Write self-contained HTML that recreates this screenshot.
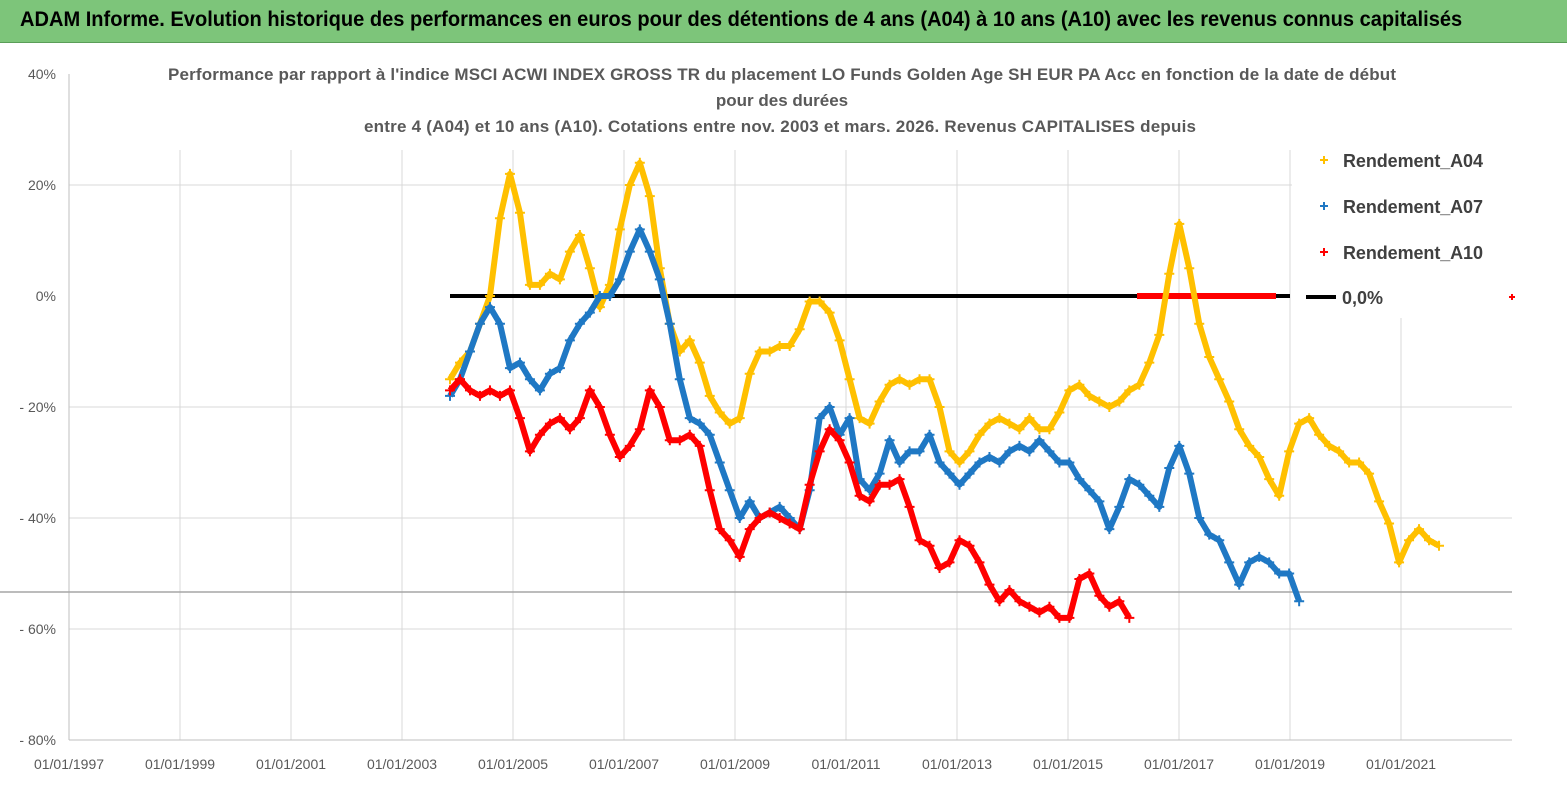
<!DOCTYPE html>
<html><head><meta charset="utf-8">
<style>
body{margin:0;background:#fff;font-family:"Liberation Sans",sans-serif;}
#wrap{position:relative;width:1567px;height:790px;overflow:hidden;background:#fff;}
#topbar{position:absolute;left:0;top:0;width:1567px;height:42px;background:#7dc57a;border-bottom:1px solid #5a9e58;}
#topbar span{position:absolute;left:20px;top:8px;font-size:21px;font-weight:bold;color:#000;white-space:nowrap;transform:scaleX(0.955);transform-origin:left;}
svg{position:absolute;left:0;top:0;}
</style></head><body>
<div id="wrap">
<div id="topbar"><span>ADAM Informe. Evolution historique des performances en euros pour des détentions de 4 ans (A04) à 10 ans (A10) avec les revenus connus capitalisés</span></div>
<svg id="chart" width="1567" height="790"></svg>
</div>
<script>
const yTicks=[40,20,0,-20,-40,-60,-80];
const yTickLabels=["40%","20%","0%","- 20%","- 40%","- 60%","- 80%"];
const xTickYears=[1997,1999,2001,2003,2005,2007,2009,2011,2013,2015,2017,2019,2021];
const xTickLabels=["01/01/1997","01/01/1999","01/01/2001","01/01/2003","01/01/2005","01/01/2007","01/01/2009","01/01/2011","01/01/2013","01/01/2015","01/01/2017","01/01/2019","01/01/2021"];
const startYear=2003.865, stepYears=0.18;
const a04=[-15,-12,-10,-5,0,14,22,15,2,2,4,3,8,11,5,-2,2,12,20,24,18,5,-5,-10,-8,-12,-18,-21,-23,-22,-14,-10,-10,-9,-9,-6,-1,-1,-3,-8,-15,-22,-23,-19,-16,-15,-16,-15,-15,-20,-28,-30,-28,-25,-23,-22,-23,-24,-22,-24,-24,-21,-17,-16,-18,-19,-20,-19,-17,-16,-12,-7,4,13,5,-5,-11,-15,-19,-24,-27,-29,-33,-36,-28,-23,-22,-25,-27,-28,-30,-30,-32,-37,-41,-48,-44,-42,-44,-45];
const a07=[-18,-15,-10,-5,-2,-5,-13,-12,-15,-17,-14,-13,-8,-5,-3,0,0,3,8,12,8,3,-5,-15,-22,-23,-25,-30,-35,-40,-37,-40,-39,-38,-40,-42,-35,-22,-20,-25,-22,-33,-35,-32,-26,-30,-28,-28,-25,-30,-32,-34,-32,-30,-29,-30,-28,-27,-28,-26,-28,-30,-30,-33,-35,-37,-42,-38,-33,-34,-36,-38,-31,-27,-32,-40,-43,-44,-48,-52,-48,-47,-48,-50,-50,-55];
const a10=[-17,-15,-17,-18,-17,-18,-17,-22,-28,-25,-23,-22,-24,-22,-17,-20,-25,-29,-27,-24,-17,-20,-26,-26,-25,-27,-35,-42,-44,-47,-42,-40,-39,-40,-41,-42,-34,-28,-24,-26,-30,-36,-37,-34,-34,-33,-38,-44,-45,-49,-48,-44,-45,-48,-52,-55,-53,-55,-56,-57,-56,-58,-58,-51,-50,-54,-56,-55,-58];
const seriesNames=["Rendement_A04","Rendement_A07","Rendement_A10"];
const NS="http://www.w3.org/2000/svg";
const svg=document.getElementById('chart');
const X=y=>69+(y-1997)*55.5;
const Y=v=>296-v*111/20;
function mk(tag,attrs,parent){const e=document.createElementNS(NS,tag);for(const k in attrs)e.setAttribute(k,attrs[k]);(parent||svg).appendChild(e);return e;}
yTicks.forEach((t,i)=>{
 if(t!==0&&t!==-80&&t!==40){const g=mk('line',{x1:69,x2:1512,y1:Y(t),y2:Y(t),stroke:'#d9d9d9','stroke-width':1});
 
 }
 const tx=mk('text',{x:56,y:Y(t)+5,'text-anchor':'end','font-size':14,fill:'#595959','font-family':'Liberation Sans, sans-serif'});
 tx.textContent=yTickLabels[i];
 
 
});
xTickYears.forEach((yr,i)=>{
 if(i>0){const g=mk('line',{x1:X(yr),x2:X(yr),y1:150,y2:740,stroke:'#d9d9d9','stroke-width':1});
 
 }
 const tx=mk('text',{x:X(yr),y:769,'text-anchor':'middle','font-size':14,fill:'#595959','font-family':'Liberation Sans, sans-serif'});
 tx.textContent=xTickLabels[i];
 
 
});
const ax=mk('line',{x1:69,x2:69,y1:74,y2:740,stroke:'#bfbfbf'});


const bx=mk('line',{x1:69,x2:1512,y1:740,y2:740,stroke:'#bfbfbf'});


const gl=mk('line',{x1:0,x2:1512,y1:592,y2:592,stroke:'#a6a6a6','stroke-width':1.5});


const tl=["Performance par rapport à l'indice MSCI ACWI INDEX GROSS TR  du placement LO Funds Golden Age SH EUR PA Acc en fonction de la date de début","pour des durées","entre 4 (A04) et 10 ans (A10). Cotations entre nov. 2003 et mars. 2026. Revenus CAPITALISES depuis"];
tl.forEach((s,i)=>{const t=mk('text',{x:i==2?780:782,y:80+i*26,'text-anchor':'middle','font-size':17,'font-weight':'bold',fill:'#595959','font-family':'Liberation Sans, sans-serif'});
 if(i==0)t.setAttribute('textLength',1228);
 if(i==2)t.setAttribute('textLength',832);
 t.textContent=s;
 
 });
const z=mk('line',{x1:450,x2:1290,y1:Y(0),y2:Y(0),stroke:'#000','stroke-width':4});


const zr=mk('line',{x1:1137,x2:1276,y1:Y(0),y2:Y(0),stroke:'#ff0000','stroke-width':6});


const colors=['#ffc000','#1f78c4','#ff0000'];
[a04,a07,a10].forEach((arr,si)=>{
 const g=mk('g',{});
 
 
 const pts=arr.map((v,i)=>X(startYear+i*stepYears)+','+Y(v)).join(' ');
 mk('polyline',{points:pts,fill:'none',stroke:colors[si],'stroke-width':6,'stroke-linejoin':'round'},g);
 arr.forEach((v,i)=>{const cx=X(startYear+i*stepYears),cy=Y(v);
  const p=mk('path',{d:`M${cx-5},${cy}H${cx+5}M${cx},${cy-5}V${cy+5}`,stroke:colors[si],'stroke-width':2},g);
  
  });
});
const lg=mk('g',{});


mk('rect',{x:1292,y:140,width:220,height:178,fill:'#fff'},lg);
seriesNames.forEach((n,i)=>{const y=160+i*46;
 mk('path',{d:`M1320,${y}h8M1324,${y-4}v8`,stroke:colors[i],'stroke-width':2},lg);
 const t=mk('text',{x:1343,y:y+7,'font-size':18,'font-weight':'bold',fill:'#404040','font-family':'Liberation Sans, sans-serif',textLength:140},lg);
 t.textContent=n;
 
 });
mk('line',{x1:1306,x2:1336,y1:297,y2:297,stroke:'#000','stroke-width':4},lg);
const t0=mk('text',{x:1342,y:304,'font-size':18,'font-weight':'bold',fill:'#404040','font-family':'Liberation Sans, sans-serif'},lg);
t0.textContent="0,0%";


mk('path',{d:'M1509,297h6M1512,294v6',stroke:'#ff0000','stroke-width':2});
</script>
</body></html>
